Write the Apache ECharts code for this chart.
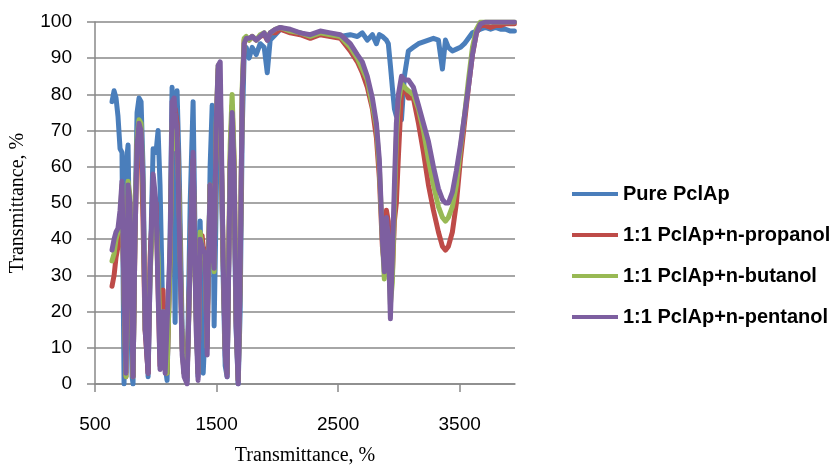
<!DOCTYPE html>
<html>
<head>
<meta charset="utf-8">
<script src="https://cdn.jsdelivr.net/npm/echarts@6/dist/echarts.min.js"></script>
<style>
  html, body { margin: 0; padding: 0; background: #fff; }
  #ir-chart { width: 829px; height: 466px; }
</style>
</head>
<body>
<div id="ir-chart"></div>
<script>
// IR spectra, wavenumber grid shared by all four curves
var wavenumber = [
    640, 657, 673, 689, 706, 722, 739, 755, 772, 788,
    805, 813, 829, 846, 862, 879, 895, 912, 937, 953,
    978, 1002, 1019, 1035, 1060, 1077, 1093, 1118, 1134, 1151,
    1159, 1175, 1192, 1217, 1233, 1258, 1283, 1307, 1332, 1348,
    1365, 1381, 1390, 1406, 1423, 1431, 1447, 1464, 1480, 1497,
    1513, 1530, 1554, 1571, 1587, 1612, 1628, 1645, 1661, 1678,
    1694, 1711, 1727, 1744, 1768, 1793, 1826, 1859, 1892, 1917,
    1941, 1983, 2024, 2106, 2189, 2271, 2353, 2436, 2518, 2600,
    2658, 2699, 2740, 2782, 2815, 2839, 2864, 2880, 2897, 2913,
    2930, 2946, 2963, 2979, 2996, 3021, 3045, 3078, 3119, 3161,
    3202, 3243, 3284, 3325, 3358, 3383, 3407, 3440, 3473, 3506,
    3539, 3572, 3605, 3638, 3671, 3712, 3754, 3795, 3836, 3877,
    3918, 3950
];

var pure = [
    78, 81, 79, 74, 65, 64, 0, 60, 66, 30,
    2, 0, 45, 75, 79, 78, 60, 20, 2, 30,
    65, 64, 70, 55, 15, 5, 1, 40, 82, 40,
    17, 81, 60, 15, 3, 1, 50, 78, 20, 2,
    45, 20, 3, 15, 20, 25, 60, 77, 16, 50,
    85, 82, 30, 5, 2, 60, 74, 50, 15, 0,
    20, 70, 91, 93, 90, 93, 91, 94, 93, 86,
    95, 96.5, 98, 97.5, 97, 96, 97, 96.5, 96, 96.5,
    96, 97, 95, 96.5, 94, 96.5, 96, 95.5, 95, 94,
    88, 82, 76, 74, 77, 73, 85, 92, 93, 94,
    94.5, 95, 95.5, 95, 87, 95, 93, 92, 92.5, 93,
    94, 95.5, 97, 97.5, 98, 98.5, 98, 98.5, 98, 98,
    97.5, 97.5
];

var propanol = [
    27, 30, 35, 38, 42, 50, 25, 2, 52, 50,
    15, 2, 40, 66, 70, 66, 45, 15, 3, 35,
    51, 50, 27, 5, 26, 4, 3, 35, 70, 75,
    76, 72, 50, 10, 3, 2, 35, 62, 20, 3,
    40, 41, 38, 36, 10, 30, 55, 40, 35, 70,
    87, 80, 35, 10, 3, 62, 77, 60, 18, 1,
    30, 80, 95, 95.5, 95, 96, 95, 96, 96.5, 95,
    97, 97, 98, 97, 96.5, 95.5, 96.5, 96, 95.5, 92,
    89, 86, 82, 76, 68, 57, 38, 33, 48, 45,
    27, 30, 45, 50, 63, 80, 82, 79, 79, 72,
    64, 55, 48, 42, 38, 37, 38, 42, 50, 62,
    72, 82, 91, 97, 99, 99, 98.5, 99, 99, 99.5,
    99.5, 99.5
];

var butanol = [
    34, 36, 40, 42, 45, 55, 25, 2, 56, 52,
    15, 2, 42, 68, 73, 72, 55, 15, 10, 30,
    47, 45, 35, 10, 20, 6, 3, 35, 72, 65,
    70, 68, 50, 10, 3, 2, 33, 60, 18, 3,
    42, 38, 36, 34, 10, 32, 55, 40, 31, 72,
    88, 82, 35, 10, 3, 66, 80, 62, 18, 1,
    30, 82, 95.5, 96, 95, 96, 95, 96.5, 97, 95.5,
    97, 98, 98.5, 97.5, 97, 96, 97, 96.5, 96, 93,
    90, 87, 84, 77, 71, 60, 40, 29, 44, 40,
    22, 28, 50, 68, 78, 83, 82, 81, 80, 76,
    70, 62, 55, 49, 46, 45, 46, 49, 55, 65,
    74, 84, 93, 98, 100, 100, 100, 100, 100, 100,
    100, 100
];

var pentanol = [
    37, 40, 42, 43, 48, 56, 25, 3, 55, 50,
    15, 2, 40, 66, 72, 70, 55, 15, 3, 30,
    58, 50, 25, 4, 20, 3, 3, 38, 78, 79,
    75, 70, 45, 8, 2, 0, 35, 64, 15, 1,
    40, 38, 37, 36, 8, 30, 55, 37, 32, 72,
    88, 89, 35, 8, 2, 60, 75, 58, 16, 0,
    30, 80, 94, 95.5, 95.5, 96, 95, 96, 97, 95,
    97, 98, 98.5, 98, 97, 96.5, 97.5, 97, 96.5, 94,
    91, 89, 85, 79, 72, 62, 40, 31, 46, 40,
    18, 35, 55, 72, 80, 85, 84, 84, 82, 77,
    72, 67, 60, 54, 51, 50, 50, 53, 59, 66,
    74, 82, 91, 97, 99.5, 100, 100, 100, 100, 100,
    100, 100
];

var seriesNames = ['Pure PclAp', '1:1 PclAp+n-propanol', '1:1 PclAp+n-butanol', '1:1 PclAp+n-pentanol'];
var seriesValues = [pure, propanol, butanol, pentanol];
var xTicks = [500, 1500, 2500, 3500];

var irChart = echarts.init(document.getElementById('ir-chart'));

function pairs(ys) {
    return wavenumber.map(function (x, i) { return [x, ys[i]]; });
}

var axisGray = '#898989';

option = {
    animation: false,
    color: ['#4a7ebb', '#be4b48', '#98b954', '#7d5fa0'],
    grid: { left: 95, right: 314, top: 22, bottom: 82, outerBoundsMode: 'none' },
    legend: {
        orient: 'vertical',
        left: 567,
        top: 177,
        icon: 'rect',
        itemWidth: 46,
        itemHeight: 4,
        itemGap: 17,
        textStyle: {
            fontFamily: "'Liberation Sans', Arial, sans-serif",
            fontWeight: 'bold',
            fontSize: 20,
            lineHeight: 24,
            color: '#000'
        },
        data: seriesNames
    },
    xAxis: {
        type: 'value',
        min: 500,
        max: 3955,
        name: 'Transmittance, %',
        nameLocation: 'middle',
        nameGap: 62,
        nameTextStyle: { fontFamily: "'Liberation Serif', 'Times New Roman', serif", fontSize: 20, color: '#000' },
        axisLine: { show: true, lineStyle: { color: axisGray, width: 1.5 } },
        axisTick: { show: true, length: 8, customValues: xTicks, lineStyle: { color: axisGray, width: 1.5 } },
        axisLabel: {
            customValues: xTicks,
            formatter: function (v) { return String(v); },
            margin: 31,
            fontFamily: "'Liberation Sans', Arial, sans-serif",
            fontSize: 19,
            color: '#000'
        },
        splitLine: { show: false }
    },
    yAxis: {
        type: 'value',
        min: 0,
        max: 100,
        interval: 10,
        name: 'Transmittance, %',
        nameLocation: 'middle',
        nameGap: 67,
        nameTextStyle: { fontFamily: "'Liberation Serif', 'Times New Roman', serif", fontSize: 20, color: '#000' },
        axisLine: { show: true, lineStyle: { color: axisGray, width: 1.5 } },
        axisTick: { show: true, length: 8, lineStyle: { color: axisGray, width: 1.5 } },
        axisLabel: {
            margin: 23,
            fontFamily: "'Liberation Sans', Arial, sans-serif",
            fontSize: 19,
            color: '#000'
        },
        splitLine: { lineStyle: { color: axisGray, width: 1.5 } }
    },
    series: seriesNames.map(function (name, k) {
        return {
            name: name,
            type: 'line',
            showSymbol: false,
            symbol: 'none',
            lineStyle: { width: 5, join: 'round', cap: 'round' },
            data: pairs(seriesValues[k])
        };
    })
};
irChart.setOption(option);
</script>
</body>
</html>
